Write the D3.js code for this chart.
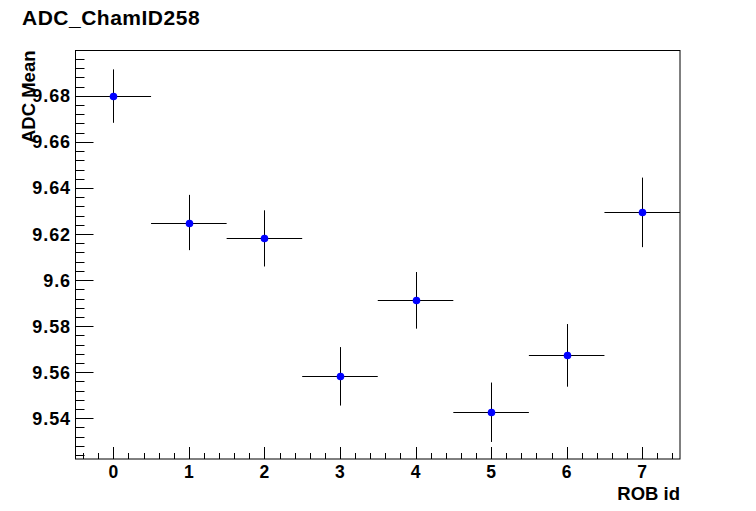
<!DOCTYPE html>
<html><head><meta charset="utf-8">
<script src="https://cdn.jsdelivr.net/npm/d3@7"></script>
<style>body{margin:0;background:#fff}svg{display:block}text{font-family:"Liberation Sans",Arial,sans-serif;font-weight:bold}</style>
</head><body>
<script>
const robIds = [0, 1, 2, 3, 4, 5, 6, 7];
const meanValues = [9.6799, 9.6250, 9.6181, 9.5582, 9.5912, 9.5426, 9.5673, 9.6294];
const meanErrors = [0.0116, 0.0120, 0.0122, 0.0127, 0.0123, 0.0129, 0.0136, 0.0151];
const xBinHalfWidth = 0.5;
const yTickValues = [9.54, 9.56, 9.58, 9.6, 9.62, 9.64, 9.66, 9.68];
const yTickLabels = ["9.54", "9.56", "9.58", "9.6", "9.62", "9.64", "9.66", "9.68"];
const xTickValues = [0, 1, 2, 3, 4, 5, 6, 7];
const titleText = "ADC_ChamID258";
const xTitle = "ROB id";
const yTitle = "ADC Mean";

const W = 756, H = 511;
const L = 75.5, R = 680, T = 50.5, B = 459;
const svg = d3.select("body").append("svg").attr("width", W).attr("height", H);
const x = d3.scaleLinear().domain([-0.5, 7.5]).range([L, R]);
const y = d3.scaleLinear().domain([9.5223, 9.6997]).range([B, T]);

// frame
svg.append("rect").attr("x", L).attr("y", T).attr("width", R - L).attr("height", B - T)
  .attr("fill", "none").attr("stroke", "#000").attr("stroke-width", 1);

// y axis ticks
const yMinor = d3.range(9.524, 9.6997, 0.004).filter(v => v >= 9.5223);
svg.append("g").selectAll("line").data(yMinor).join("line")
  .attr("x1", L).attr("x2", L + 9).attr("y1", d => Math.round(y(d)) + 0.5).attr("y2", d => Math.round(y(d)) + 0.5)
  .attr("stroke", "#000");
svg.append("g").selectAll("line").data(yTickValues).join("line")
  .attr("x1", L).attr("x2", L + 18).attr("y1", d => Math.round(y(d)) + 0.5).attr("y2", d => Math.round(y(d)) + 0.5)
  .attr("stroke", "#000");
svg.append("g").selectAll("text").data(yTickValues).join("text")
  .attr("x", L - 4.5).attr("y", d => y(d)).attr("dy", "0.36em").attr("text-anchor", "end")
  .attr("font-size", 18).attr("letter-spacing", 0.9).text((d, i) => yTickLabels[i]);

// x axis ticks
const xMinor = d3.range(-0.4, 7.5, 0.2);
svg.append("g").selectAll("line").data(xMinor).join("line")
  .attr("x1", d => Math.round(x(d)) + 0.5).attr("x2", d => Math.round(x(d)) + 0.5).attr("y1", B).attr("y2", B - 6)
  .attr("stroke", "#000");
svg.append("g").selectAll("line").data(xTickValues).join("line")
  .attr("x1", d => Math.round(x(d)) + 0.5).attr("x2", d => Math.round(x(d)) + 0.5).attr("y1", B).attr("y2", B - 12)
  .attr("stroke", "#000");
svg.append("g").selectAll("text").data(xTickValues).join("text")
  .attr("x", d => x(d)).attr("y", 478).attr("text-anchor", "middle")
  .attr("font-size", 17.5).text(d => d);

// data
const pts = robIds.map((id, i) => ({id, v: meanValues[i], e: meanErrors[i]}));
const g = svg.append("g");
g.selectAll("line.h").data(pts).join("line").attr("class", "h")
  .attr("x1", d => x(d.id - xBinHalfWidth)).attr("x2", d => x(d.id + xBinHalfWidth))
  .attr("y1", d => Math.round(y(d.v)) + 0.5).attr("y2", d => Math.round(y(d.v)) + 0.5)
  .attr("stroke", "#000").attr("stroke-width", 1);
g.selectAll("line.v").data(pts).join("line").attr("class", "v")
  .attr("x1", d => Math.round(x(d.id)) + 0.5).attr("x2", d => Math.round(x(d.id)) + 0.5)
  .attr("y1", d => y(d.v - d.e)).attr("y2", d => y(d.v + d.e))
  .attr("stroke", "#000").attr("stroke-width", 1);
g.selectAll("circle").data(pts).join("circle")
  .attr("cx", d => Math.round(x(d.id)) + 0.5).attr("cy", d => Math.round(y(d.v)) + 0.5).attr("r", 3.8)
  .attr("fill", "#0000ff");

// titles
svg.append("text").attr("x", 22).attr("y", 25).attr("font-size", 21).attr("letter-spacing", 0.5).text(titleText);
svg.append("text").attr("x", R).attr("y", 500).attr("text-anchor", "end").attr("font-size", 18.5).text(xTitle);
svg.append("text").attr("transform", `translate(35,${T}) rotate(-90)`).attr("text-anchor", "end")
  .attr("font-size", 18.5).text(yTitle);
</script>
</body></html>
